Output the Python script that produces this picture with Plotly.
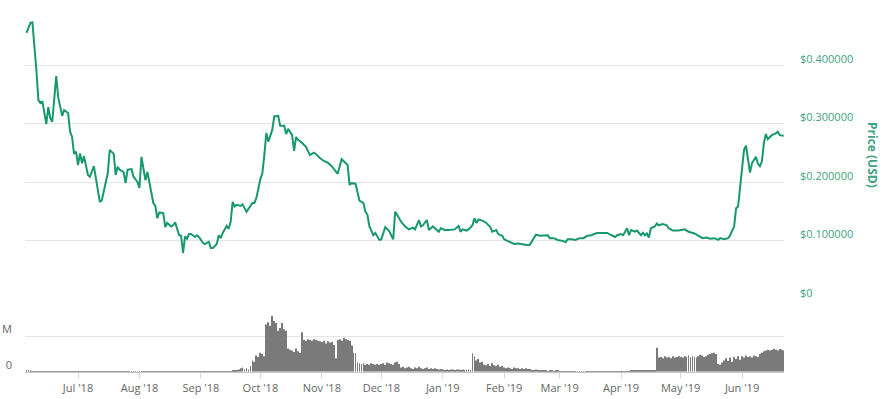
import plotly.graph_objects as go
import pandas as pd

# ---------------- price (USD) ----------------
price_dates = [
    "2018-06-05", "2018-06-07", "2018-06-08", "2018-06-09", "2018-06-10", "2018-06-11", "2018-06-12",
    "2018-06-13", "2018-06-15", "2018-06-16", "2018-06-17", "2018-06-18", "2018-06-20", "2018-06-21",
    "2018-06-23", "2018-06-24", "2018-06-26", "2018-06-27", "2018-06-28", "2018-06-29", "2018-06-30",
    "2018-07-01", "2018-07-02", "2018-07-03", "2018-07-04", "2018-07-06", "2018-07-07", "2018-07-09",
    "2018-07-10", "2018-07-12", "2018-07-13", "2018-07-15", "2018-07-16", "2018-07-17", "2018-07-19",
    "2018-07-20", "2018-07-21", "2018-07-22", "2018-07-24", "2018-07-25", "2018-07-26", "2018-07-28",
    "2018-07-29", "2018-07-31", "2018-08-01", "2018-08-02", "2018-08-04", "2018-08-05", "2018-08-06",
    "2018-08-08", "2018-08-09", "2018-08-10", "2018-08-11", "2018-08-13", "2018-08-14", "2018-08-15",
    "2018-08-17", "2018-08-18", "2018-08-19", "2018-08-21", "2018-08-22", "2018-08-23", "2018-08-24",
    "2018-08-25", "2018-08-26", "2018-08-27", "2018-08-29", "2018-08-30", "2018-08-31", "2018-09-02",
    "2018-09-03", "2018-09-05", "2018-09-06", "2018-09-07", "2018-09-09", "2018-09-10", "2018-09-11",
    "2018-09-12", "2018-09-14", "2018-09-15", "2018-09-16", "2018-09-17", "2018-09-18", "2018-09-19",
    "2018-09-21", "2018-09-22", "2018-09-24", "2018-09-25", "2018-09-27", "2018-09-28", "2018-09-29",
    "2018-10-01", "2018-10-02", "2018-10-03", "2018-10-04", "2018-10-05", "2018-10-07", "2018-10-08",
    "2018-10-10", "2018-10-11", "2018-10-13", "2018-10-14", "2018-10-15", "2018-10-17", "2018-10-18",
    "2018-10-19", "2018-10-20", "2018-10-22", "2018-10-24", "2018-10-26", "2018-10-28", "2018-10-29",
    "2018-10-31", "2018-11-02", "2018-11-04", "2018-11-06", "2018-11-08", "2018-11-09", "2018-11-11",
    "2018-11-12", "2018-11-14", "2018-11-15", "2018-11-16", "2018-11-18", "2018-11-19", "2018-11-20",
    "2018-11-22", "2018-11-23", "2018-11-24", "2018-11-25", "2018-11-27", "2018-11-28", "2018-11-30",
    "2018-12-01", "2018-12-03", "2018-12-04", "2018-12-05", "2018-12-07", "2018-12-08", "2018-12-09",
    "2018-12-11", "2018-12-13", "2018-12-15", "2018-12-17", "2018-12-18", "2018-12-20", "2018-12-21",
    "2018-12-22", "2018-12-24", "2018-12-25", "2018-12-27", "2018-12-28", "2018-12-30", "2018-12-31",
    "2019-01-02", "2019-01-04", "2019-01-05", "2019-01-07", "2019-01-09", "2019-01-10", "2019-01-11",
    "2019-01-13", "2019-01-14", "2019-01-16", "2019-01-17", "2019-01-18", "2019-01-19", "2019-01-21",
    "2019-01-23", "2019-01-25", "2019-01-26", "2019-01-28", "2019-01-29", "2019-01-31", "2019-02-01",
    "2019-02-04", "2019-02-06", "2019-02-08", "2019-02-10", "2019-02-12", "2019-02-13", "2019-02-14",
    "2019-02-16", "2019-02-17", "2019-02-19", "2019-02-21", "2019-02-23", "2019-02-24", "2019-02-26",
    "2019-02-28", "2019-03-03", "2019-03-04", "2019-03-05", "2019-03-07", "2019-03-09", "2019-03-11",
    "2019-03-13", "2019-03-15", "2019-03-17", "2019-03-19", "2019-03-20", "2019-03-23", "2019-03-25",
    "2019-03-26", "2019-03-28", "2019-03-29", "2019-03-30", "2019-04-01", "2019-04-02", "2019-04-04",
    "2019-04-05", "2019-04-06", "2019-04-08", "2019-04-09", "2019-04-11", "2019-04-12", "2019-04-13",
    "2019-04-14", "2019-04-15", "2019-04-16", "2019-04-18", "2019-04-19", "2019-04-20", "2019-04-22",
    "2019-04-24", "2019-04-25", "2019-04-27", "2019-04-29", "2019-04-30", "2019-05-03", "2019-05-05",
    "2019-05-08", "2019-05-10", "2019-05-12", "2019-05-14", "2019-05-16", "2019-05-18", "2019-05-20",
    "2019-05-21", "2019-05-23", "2019-05-25", "2019-05-26", "2019-05-28", "2019-05-29", "2019-05-30",
    "2019-05-31", "2019-06-02", "2019-06-03", "2019-06-04", "2019-06-05", "2019-06-06", "2019-06-08",
    "2019-06-09", "2019-06-10", "2019-06-11", "2019-06-12", "2019-06-13", "2019-06-14", "2019-06-16",
    "2019-06-18", "2019-06-19", "2019-06-20", "2019-06-22",
]
price_usd = [
    0.455, 0.472, 0.473, 0.437, 0.391, 0.340, 0.335,
    0.338, 0.299, 0.328, 0.309, 0.303, 0.381, 0.345,
    0.313, 0.323, 0.318, 0.286, 0.277, 0.248, 0.252,
    0.229, 0.249, 0.232, 0.244, 0.212, 0.209, 0.227,
    0.209, 0.166, 0.169, 0.198, 0.215, 0.255, 0.248,
    0.212, 0.226, 0.221, 0.217, 0.198, 0.221, 0.222,
    0.209, 0.200, 0.190, 0.243, 0.203, 0.217, 0.200,
    0.164, 0.159, 0.138, 0.148, 0.147, 0.123, 0.130,
    0.124, 0.126, 0.131, 0.109, 0.108, 0.079, 0.107,
    0.103, 0.111, 0.111, 0.106, 0.109, 0.106, 0.096,
    0.094, 0.098, 0.087, 0.087, 0.094, 0.109, 0.104,
    0.113, 0.125, 0.120, 0.132, 0.166, 0.158, 0.161,
    0.159, 0.162, 0.149, 0.154, 0.164, 0.164, 0.173,
    0.205, 0.215, 0.246, 0.284, 0.269, 0.289, 0.312,
    0.313, 0.296, 0.296, 0.282, 0.291, 0.280, 0.253,
    0.277, 0.272, 0.267, 0.260, 0.246, 0.250, 0.248,
    0.241, 0.236, 0.233, 0.227, 0.219, 0.214, 0.239,
    0.236, 0.229, 0.195, 0.198, 0.197, 0.181, 0.168,
    0.164, 0.149, 0.144, 0.124, 0.109, 0.113, 0.101,
    0.102, 0.123, 0.119, 0.116, 0.102, 0.149, 0.144,
    0.132, 0.124, 0.119, 0.122, 0.119, 0.135, 0.124,
    0.126, 0.135, 0.118, 0.124, 0.121, 0.115, 0.121,
    0.118, 0.118, 0.118, 0.119, 0.125, 0.115, 0.119,
    0.117, 0.119, 0.126, 0.138, 0.130, 0.136, 0.134,
    0.130, 0.123, 0.115, 0.118, 0.111, 0.108, 0.102,
    0.098, 0.094, 0.095, 0.094, 0.092, 0.092, 0.093,
    0.105, 0.110, 0.108, 0.108, 0.109, 0.104, 0.104,
    0.101, 0.099, 0.097, 0.102, 0.102, 0.101, 0.104,
    0.104, 0.108, 0.109, 0.112, 0.113, 0.113, 0.113,
    0.111, 0.108, 0.106, 0.109, 0.111, 0.109, 0.121,
    0.109, 0.118, 0.115, 0.117, 0.109, 0.113, 0.109,
    0.112, 0.105, 0.121, 0.124, 0.129, 0.126, 0.128,
    0.126, 0.121, 0.117, 0.117, 0.117, 0.119, 0.115,
    0.112, 0.108, 0.104, 0.105, 0.103, 0.104, 0.101,
    0.104, 0.102, 0.104, 0.109, 0.124, 0.155, 0.158,
    0.192, 0.255, 0.262, 0.238, 0.216, 0.232, 0.243,
    0.231, 0.227, 0.235, 0.266, 0.282, 0.273, 0.280,
    0.283, 0.286, 0.280, 0.279,
]

# ---------------- daily volume (millions USD), one list per month ----------------
vol_2018_06 = [2.0, 1.5, 1.0, 0.6, 0.3, 0.3, 0.2, 0.2, 0.2, 0.2, 0.2, 0.2, 0.2,
               0.2, 0.2, 0.2, 0.2, 0.2, 0.2, 0.2, 0.2, 0.2, 0.2, 0.2, 0.2, 0.2]
vol_2018_07 = [0.2, 0.2, 0.2, 0.2, 0.2, 0.2, 0.2, 0.2, 0.2, 0.2, 0.2, 0.2, 0.2, 0.2, 0.2, 0.2,
               0.2, 0.2, 0.2, 0.2, 0.2, 0.2, 0.2, 0.2, 0.2, 0.2, 0.2, 0.2, 0.2, 0.2, 0.2]
vol_2018_08 = [0.2, 0.2, 0.2, 0.2, 0.2, 0.2, 0.2, 0.2, 0.2, 0.2, 0.2, 0.2, 0.2, 0.2, 0.2, 0.2,
               0.2, 0.2, 0.2, 0.2, 0.2, 0.2, 0.2, 0.2, 0.2, 0.2, 0.2, 0.2, 0.2, 0.2, 0.2]
vol_2018_09 = [0.2, 0.2, 0.2, 0.2, 0.2, 0.2, 0.2, 0.2, 0.2, 0.2, 0.2, 0.2, 0.3, 0.3, 0.3,
               0.5, 1.5, 2.0, 1.0, 3.0, 5.0, 6.0, 4.0, 5.0, 3.0, 8.0, 16.0, 14.0, 23.0, 21.0]
vol_2018_10 = [27, 25, 22, 67, 70, 65, 79, 72, 69, 58, 62, 69, 60, 58, 33, 31,
               30, 28, 33, 29, 27, 56, 45, 44, 46, 45, 44, 46, 45, 44, 43]
vol_2018_11 = [42, 44, 40, 43, 41, 42, 38, 19, 45, 46, 44, 48, 46, 45, 44,
               37, 27, 26, 13, 12, 11, 12, 10, 11, 10, 12, 11, 10, 11, 10]
vol_2018_12 = [11, 12, 10, 13, 12, 11, 10, 13, 14, 11, 6, 7, 5, 6, 7, 5,
               4, 6, 5, 7, 5, 4, 5, 6, 4, 5, 4, 5, 4, 3, 4]
vol_2019_01 = [3, 2, 3, 2, 3, 3, 2, 3, 3, 2, 3, 2, 3, 3, 2, 26,
               22, 16, 18, 13, 14, 10, 9, 11, 8, 12, 9, 8, 10, 7, 8]
vol_2019_02 = [6, 5, 6, 5, 4, 6, 5, 5, 4, 5, 4, 5, 4, 4,
               2, 2, 3, 2, 1, 1, 1, 1, 0.8, 1, 1, 0.8, 1, 1]
vol_2019_03 = [0.5, 0.4, 0.4, 0.5, 0.4, 0.3, 0.4, 0.4, 0.3, 0.4, 0.3, 0.4, 0.3, 0.4, 0.3, 0.3,
               0.4, 0.3, 0.3, 0.4, 0.3, 0.3, 0.4, 0.3, 0.3, 0.3, 0.4, 0.3, 0.3, 0.4, 0.4]
vol_2019_04 = [0.4, 0.4, 0.4, 0.4, 0.4, 1.5, 2.0, 1.5, 1.8, 2.0, 1.5, 1.8, 2.0, 1.5, 1.8,
               2.0, 1.0, 1.0, 34, 20, 21, 19, 22, 20, 21, 19, 22, 20, 21, 22]
vol_2019_05 = [21, 20, 22, 21, 23, 20, 22, 21, 20, 22, 24, 23, 21, 22, 24, 25,
               26, 27, 25, 11, 10, 13, 16, 19, 15, 20, 14, 21, 18, 22, 17]
vol_2019_06 = [22, 20, 23, 21, 22, 20, 23, 22, 21, 25, 27,
               29, 30, 31, 30, 31, 32, 31, 30, 32, 31, 30]

volume_m = (vol_2018_06 + vol_2018_07 + vol_2018_08 + vol_2018_09 + vol_2018_10 +
            vol_2018_11 + vol_2018_12 + vol_2019_01 + vol_2019_02 + vol_2019_03 +
            vol_2019_04 + vol_2019_05 + vol_2019_06)
volume_dates = pd.date_range("2018-06-05", periods=len(volume_m), freq="D")

price_ticks = [0, 0.1, 0.2, 0.3, 0.4, 0.5]
price_tick_text = ["$0", "$0.100000", "$0.200000", "$0.300000", "$0.400000", ""]
volume_ticks = [0, 50]
volume_tick_text = ["0", "M"]

# ---------------- figure ----------------
W, H = 886, 399
GREEN = "#18986f"
LABEL_GREEN = "#3fa383"
GRID = "#e6e6e6"

fig = go.Figure()
fig.add_trace(go.Scatter(x=price_dates, y=price_usd, mode="lines",
                         line=dict(color=GREEN, width=2), xaxis="x", yaxis="y",
                         showlegend=False, hoverinfo="x+y"))
fig.add_trace(go.Bar(x=volume_dates, y=volume_m, marker=dict(color="#7a7a7a", line=dict(width=0)),
                     xaxis="x2", yaxis="y2", showlegend=False))

x_left, x_right = 25 / W, 784 / W
x_range = ["2018-06-04 06:00", "2019-06-22 04:00"]

fig.update_layout(
    width=W, height=H,
    margin=dict(l=0, r=0, t=0, b=0),
    paper_bgcolor="white", plot_bgcolor="white",
    font=dict(family="Open Sans, sans-serif", size=11, color="#666666"),
    bargap=0.55,
    xaxis=dict(domain=[x_left, x_right], range=x_range, type="date",
               showticklabels=False, showgrid=False, zeroline=False, showline=False,
               anchor="y", automargin=False),
    yaxis=dict(domain=[1 - 299 / H, 1 - 6.5 / H], range=[0, 0.5], side="right",
               tickvals=price_ticks, ticktext=price_tick_text,
               showgrid=True, gridcolor=GRID, gridwidth=1, zeroline=False,
               tickfont=dict(color=LABEL_GREEN, size=11),
               ticklabelstandoff=15, ticklabelshift=-6, anchor="x", automargin=False),
    xaxis2=dict(domain=[x_left, x_right], range=x_range, type="date", matches="x",
                anchor="y2", showgrid=False, zeroline=False,
                showline=True, linecolor="#c8c8c8", linewidth=1,
                ticks="outside", ticklen=6, tickcolor="#d8d8d8",
                dtick="M1", tick0="2018-07-01", tickformat="%b '%y",
                tickfont=dict(color="#666666", size=11), automargin=False),
    yaxis2=dict(domain=[1 - 371.7 / H, 1 - 299 / H], range=[0, 103], side="left",
                tickvals=volume_ticks, ticktext=volume_tick_text,
                showgrid=True, gridcolor=GRID, zeroline=False,
                tickfont=dict(color="#666666", size=11),
                ticklabelstandoff=12, ticklabelshift=-7, anchor="x2", automargin=False),
)

fig.add_annotation(text="<b>Price (USD)</b>", xref="paper", yref="paper",
                   x=873 / W, y=1 - 155 / H, xanchor="center", yanchor="middle",
                   showarrow=False, textangle=90,
                   font=dict(color=LABEL_GREEN, size=12))

fig.write_html("out.html", config={"displayModeBar": False},
               post_script="document.body.style.margin='0';")
